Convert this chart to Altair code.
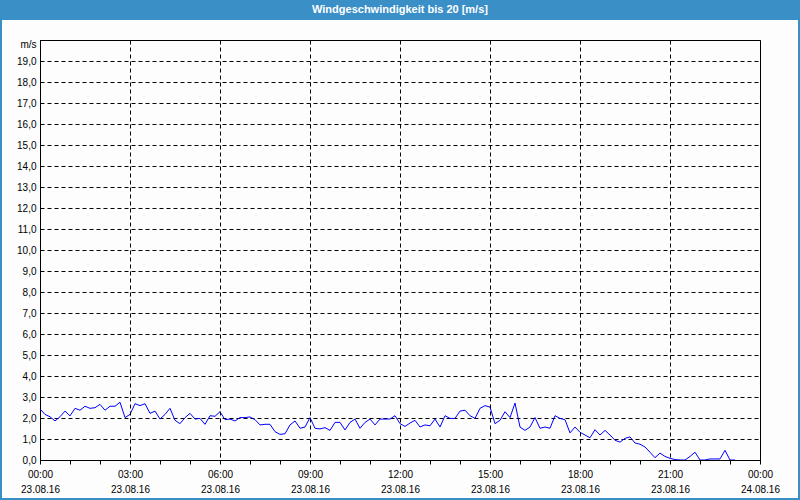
import altair as alt
import pandas as pd

# wind speed in m/s, one reading every 10 minutes from 23.08.16 00:00
speed = [
    2.43, 2.17, 2.06, 1.86, 2.06, 2.33, 2.10, 2.46, 2.37, 2.56,
    2.46, 2.49, 2.65, 2.37, 2.56, 2.56, 2.75, 2.02, 2.17, 2.68,
    2.59, 2.68, 2.22, 2.33, 1.95, 2.17, 2.46, 1.89, 1.73, 2.02,
    2.22, 1.95, 1.98, 1.70, 2.11, 2.08, 2.30, 1.92, 1.95, 1.86,
    2.02, 2.02, 2.05, 1.92, 1.67, 1.70, 1.70, 1.35, 1.22, 1.25,
    1.67, 1.86, 1.51, 1.57, 2.02, 1.51, 1.48, 1.54, 1.41, 1.79,
    1.79, 1.43, 1.79, 1.95, 1.51, 1.79, 1.95, 1.67, 1.95, 1.95,
    1.95, 2.11, 1.73, 1.60, 1.76, 1.89, 1.57, 1.67, 1.63, 1.95,
    1.57, 2.11, 1.98, 1.98, 2.33, 2.37, 2.11, 1.98, 2.46, 2.59,
    2.52, 1.73, 1.89, 2.30, 2.02, 2.71, 1.57, 1.41, 1.57, 2.02,
    1.51, 1.57, 1.51, 2.11, 1.98, 1.92, 1.29, 1.57, 1.32, 1.19,
    1.06, 1.44, 1.19, 1.41, 1.19, 0.94, 0.85, 1.03, 1.10, 0.81,
    0.75, 0.62, 0.37, 0.11, 0.33, 0.17, 0.08, 0.02, 0.0, 0.0,
    0.17, 0.37, 0.0, 0.0, 0.05, 0.05, 0.05, 0.46, 0.0, 0.0,
]
hours = [i * 10 / 60 for i in range(len(speed))]

x_tick_hours = list(range(0, 25))
y_ticks = list(range(0, 21))
title_text = "Windgeschwindigkeit bis 20 [m/s]"
day1 = "23.08.16"
day2 = "24.08.16"
unit = "m/s"

df = pd.DataFrame({"h": hours, "v": speed})

FONT = "Liberation Sans"
BG = "#fcfdfc"
BLUE = "#3b8fc7"

x_label_expr = (
    "datum.value % 3 != 0 ? '' : "
    "[(datum.value == 24 ? '00' : (datum.value < 10 ? '0' : '') + datum.value) + ':00', "
    f"datum.value == 24 ? '{day2}' : '{day1}']"
)
y_label_expr = (
    f"datum.value == 20 ? '{unit}' : replace(format(datum.value, '.1f'), '.', ',')"
)

line = alt.Chart(df).mark_line(color="#0000ff", strokeWidth=1).encode(
    x=alt.X(
        "h:Q",
        scale=alt.Scale(domain=[0, 24], nice=False, zero=False),
        axis=alt.Axis(
            values=x_tick_hours,
            labelExpr=x_label_expr,
            grid=True,
            gridColor="black",
            gridDash=[4, 3],
            gridOpacity={"condition": {"test": "datum.value % 3 === 0", "value": 1}, "value": 0},
            domainColor="black",
            tickColor="black",
            tickSize=4,
            labelFont=FONT,
            labelFontSize=10,
            labelColor="black",
            labelPadding=5,
            labelLineHeight=15,
            labelBaseline="top",
            labelFlush=False,
            labelOverlap=False,
            title=None,
            zindex=1,
        ),
    ),
    y=alt.Y(
        "v:Q",
        scale=alt.Scale(domain=[0, 20], nice=False),
        axis=alt.Axis(
            values=y_ticks,
            labelExpr=y_label_expr,
            labelOffset={"condition": {"test": "datum.value == 20", "value": 4}, "value": 0},
            grid=True,
            gridColor="black",
            gridDash=[4, 3],
            ticks=False,
            domainColor="black",
            labelFont=FONT,
            labelFontSize=10,
            labelColor="black",
            labelPadding=4,
            labelFlush=False,
            labelOverlap=False,
            title=None,
        ),
    ),
)

one = alt.Data(values=[{}])
bar = alt.Chart(one).mark_rect(color=BLUE).encode(
    x=alt.value(-40), x2=alt.value(760), y=alt.value(-40), y2=alt.value(-20)
)
frame = alt.Chart(one).mark_rect(fillOpacity=0, stroke=BLUE, strokeWidth=2).encode(
    x=alt.value(-39), x2=alt.value(759), y=alt.value(-21), y2=alt.value(459)
)
title = alt.Chart(one).mark_text(
    text=title_text, color="white", fontWeight="bold", fontSize=11, font=FONT,
    align="center", baseline="middle",
).encode(x=alt.value(360), y=alt.value(-30))

chart = alt.layer(bar, frame, title, line).properties(
    width=720,
    height=420,
    autosize=alt.AutoSizeParams(type="none"),
    padding={"left": 40, "top": 40, "right": 40, "bottom": 40},
    background=BG,
).configure_view(stroke="black", strokeWidth=1, fill=BG)

chart.save("out.html", embed_options={"renderer": "svg", "actions": False})
